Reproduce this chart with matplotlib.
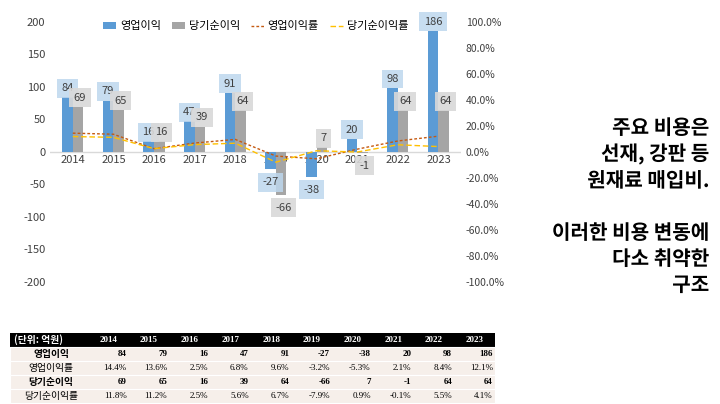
import numpy as np
import matplotlib
matplotlib.use('Agg')
import matplotlib.pyplot as plt
from matplotlib.patches import Rectangle
import matplotlib.patheffects as pe

plt.rcParams['font.family'] = ['Noto Sans CJK JP', 'Noto Sans CJK KR', 'DejaVu Sans']
plt.rcParams['axes.unicode_minus'] = False

years = ['2014', '2015', '2016', '2017', '2018', '2019', '2020', '2021', '2022', '2023']
op_profit = [84, 79, 16, 47, 91, -27, -38, 20, 98, 186]
net_profit = [69, 65, 16, 39, 64, -66, 7, -1, 64, 64]
op_margin = [14.4, 13.6, 2.5, 6.8, 9.6, -3.2, -5.3, 2.1, 8.4, 12.1]
net_margin = [11.8, 11.2, 2.5, 5.6, 6.7, -7.9, 0.9, -0.1, 5.5, 4.1]

fig = plt.figure(figsize=(7.2, 4.04), dpi=100)
ax = fig.add_axes([0.07, 0.302, 0.57, 0.644])
x = np.arange(len(years))
w = 0.26
ax.bar(x - w / 2, op_profit, w, color='#5b9bd5', label='영업이익', zorder=2)
ax.bar(x + w / 2, net_profit, w, color='#a5a5a5', label='당기순이익', zorder=2)
ax.set_ylim(-200, 200)
ax.set_xlim(-0.55, len(years) - 0.45)
ax.set_yticks(range(-200, 201, 50))
ax.set_xticks([])
ax.axhline(0, color='#d9d9d9', lw=1, zorder=1)
for s in ax.spines.values():
    s.set_visible(False)
ax.tick_params(axis='y', length=0, labelsize=8, labelcolor='#404040')
for i, yr in enumerate(years):
    ax.text(i, -5, yr, ha='center', va='top', fontsize=8, color='#404040', zorder=1)


def label_pos(v):
    return v + 14 if v >= 0 else v - 20


for i in range(len(years)):
    v = op_profit[i]
    ax.text(i - w / 2, label_pos(v), str(v), ha='center', va='center',
            fontsize=8, color='#404040', zorder=4,
            bbox=dict(boxstyle='square,pad=0.4', fc='#bdd7ee', ec='none', alpha=0.85))
    v = net_profit[i]
    ax.text(i + w / 2 + 0.05, label_pos(v), str(v),
            ha='center', va='center', fontsize=8, color='#404040', zorder=4,
            bbox=dict(boxstyle='square,pad=0.4', fc='#d9d9d9', ec='none', alpha=0.9))

ax2 = ax.twinx()
ax2.set_ylim(-100, 100)
ax2.set_yticks(range(-100, 101, 20))
ax2.set_yticklabels([f'{t:.1f}%' for t in range(-100, 101, 20)])
ax2.tick_params(axis='y', length=0, labelsize=7.5, labelcolor='#404040')
for s in ax2.spines.values():
    s.set_visible(False)
ax2.plot(x, op_margin, color='#c55a11', ls=(0, (2, 1.5)), lw=1, label='영업이익률', zorder=3)
ax2.plot(x, net_margin, color='#ffc000', ls=(0, (4, 2)), lw=1, label='당기순이익률', zorder=3)

h1, l1 = ax.get_legend_handles_labels()
h2, l2 = ax2.get_legend_handles_labels()
ax.legend(h1 + h2, l1 + l2, loc='upper center', bbox_to_anchor=(0.5, 1.04), ncol=4,
          frameon=False, fontsize=8, handlelength=1.2, columnspacing=1.0, handletextpad=0.3)

# table
rows = [('영업이익', [str(v) for v in op_profit], True),
        ('영업이익률', [f'{v:.1f}%' for v in op_margin], False),
        ('당기순이익', [str(v) for v in net_profit], True),
        ('당기순이익률', [f'{v:.1f}%' for v in net_margin], False)]
tx0, tx1 = 10 / 720, 495 / 720
rh = 14 / 404
top = 1 - 333 / 404
fig.patches.append(Rectangle((tx0, top - rh), tx1 - tx0, rh, transform=fig.transFigure,
                             fc='black', ec='none'))
fig.text(tx0 + 0.005, top - rh / 2, '(단위: 억원)', color='white', fontsize=7,
         fontweight='bold', va='center')
col0 = 88 / 720
colw = (tx1 - col0) / len(years)
for j, yr in enumerate(years):
    fig.text(col0 + colw * (j + 0.5), top - rh / 2, yr, color='white', fontsize=6.5,
             fontweight='bold', family='Liberation Serif', ha='center', va='center')
for r, (name, vals, bold) in enumerate(rows):
    y0 = top - rh * (r + 2)
    fig.patches.append(Rectangle((tx0, y0), tx1 - tx0, rh, transform=fig.transFigure,
                                 fc='#f6efea', ec='white', lw=0.8))
    fig.text((tx0 + col0) / 2 + 0.003, y0 + rh / 2, name, fontsize=7,
             fontweight='bold' if bold else 'normal', ha='center', va='center')
    for j, v in enumerate(vals):
        fig.text(col0 + colw * (j + 1) - 0.003, y0 + rh / 2, v, fontsize=6.5,
                 family='Liberation Serif', fontweight='bold' if bold else 'normal',
                 ha='right', va='center')

fig.text(0.985, 0.71, '주요 비용은\n선재, 강판 등\n원재료 매입비.\n\n이러한 비용 변동에\n다소 취약한\n구조',
         ha='right', va='top', fontsize=14.5, fontweight='bold', linespacing=1.3,
         path_effects=[pe.withStroke(linewidth=3, foreground='white')])

fig.savefig('out.png', dpi=100)
